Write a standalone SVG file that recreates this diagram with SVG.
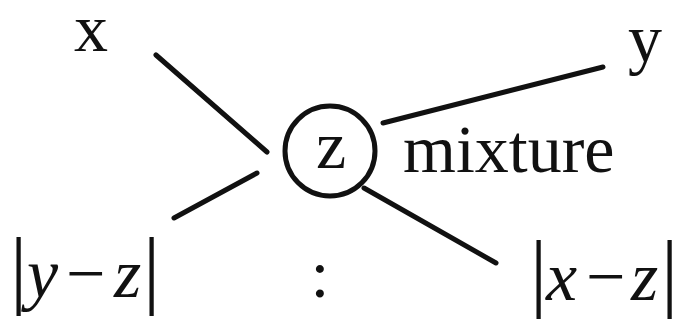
<svg xmlns="http://www.w3.org/2000/svg" width="676" height="325" viewBox="0 0 676 325">
<style>
.t{font-family:"Liberation Serif","Times New Roman",serif;fill:#111}
.r{font-size:68px}
.i{font-size:70px;font-style:italic}
.b{font-size:86px;font-style:normal}
.c{stroke:#111;stroke-width:5;stroke-linecap:round;fill:none}
</style>
<rect width="676" height="325" fill="#fff"/>
<g id="connectors">
<line class="c" x1="156" y1="55" x2="267" y2="152"/>
<line class="c" x1="174" y1="218" x2="257" y2="173"/>
<line class="c" x1="383" y1="123" x2="603" y2="67"/>
<line class="c" x1="364" y1="188" x2="496" y2="263"/>
</g>
<g id="node-x"><text class="t r" x="74" y="51">x</text></g>
<g id="node-y"><text class="t r" x="628" y="62">y</text></g>
<g id="node-z">
<circle class="c" cx="330" cy="151" r="45"/>
<text class="t r" x="331" y="168" text-anchor="middle">z</text>
</g>
<g id="label-mixture"><text class="t r" x="403" y="172" font-size="70">mixture</text></g>
<g id="ratio-left"><text class="t i" y="297"><tspan class="b" x="10">|</tspan><tspan x="27">y</tspan><tspan x="66" style="font-style:normal">−</tspan><tspan x="114">z</tspan><tspan class="b" x="143">|</tspan></text></g>
<g id="ratio-sep"><text class="t r" x="320" y="297" text-anchor="middle">:</text></g>
<g id="ratio-right"><text class="t i" y="300"><tspan class="b" x="530">|</tspan><tspan x="546">x</tspan><tspan x="586" style="font-style:normal">−</tspan><tspan x="631">z</tspan><tspan class="b" x="661">|</tspan></text></g>
</svg>
